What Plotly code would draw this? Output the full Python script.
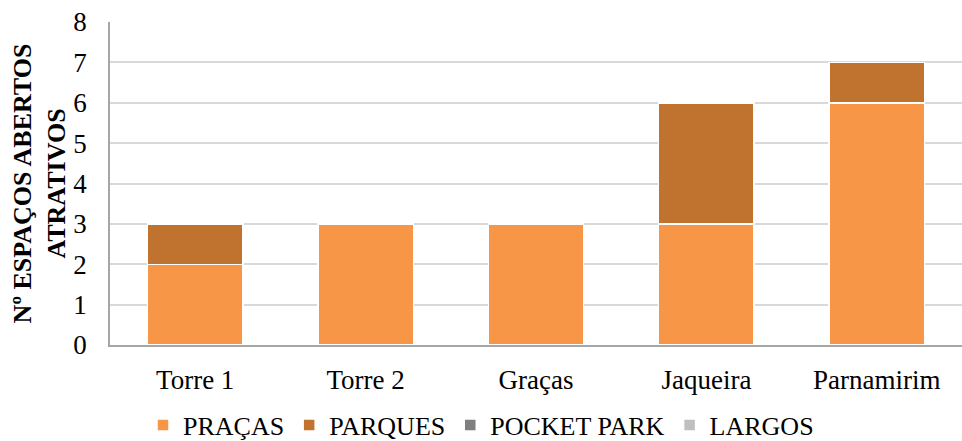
import plotly.graph_objects as go

categories = ["Torre 1", "Torre 2", "Graças", "Jaqueira", "Parnamirim"]
pracas = [2, 3, 3, 3, 6]
parques = [1, 0, 0, 3, 1]
pocket_park = [0, 0, 0, 0, 0]
largos = [0, 0, 0, 0, 0]
y_ticks = [0, 1, 2, 3, 4, 5, 6, 7, 8]

series = [
    ("PRAÇAS", pracas, "#F79646"),
    ("PARQUES", parques, "#C0732F"),
    ("POCKET PARK", pocket_park, "#7F7F7F"),
    ("LARGOS", largos, "#BFBFBF"),
]

fig = go.Figure()
for name, vals, col in series:
    fig.add_trace(go.Bar(
        x=categories, y=vals, name=name,
        marker=dict(color=col, line=dict(color="white", width=1.5)),
    ))

font = "Liberation Serif"
fig.update_layout(
    barmode="stack",
    bargap=0.44,
    width=962, height=441,
    margin=dict(l=110, r=0, t=22, b=96, autoexpand=False),
    paper_bgcolor="white", plot_bgcolor="white",
    font=dict(family=font, size=27, color="black"),
    showlegend=True,
    legend=dict(orientation="h", xref="container", x=0.5, xanchor="center",
                y=-0.248, yanchor="middle",
                font=dict(family=font, size=26), traceorder="normal",
                itemwidth=30, tracegroupgap=0),
    yaxis=dict(
        range=[0, 8], tickvals=y_ticks, showgrid=True, gridcolor="#D9D9D9", gridwidth=1.5,
        showline=True, linecolor="#A6A6A6", linewidth=1.5, zeroline=False,
        ticks="", ticklabelstandoff=16, automargin=False,
        tickfont=dict(family=font, size=27),
        title=dict(text="<b>Nº ESPAÇOS ABERTOS<br>ATRATIVOS</b>",
                   font=dict(family=font, size=26), standoff=0),
    ),
    xaxis=dict(showline=True, linecolor="#A6A6A6", linewidth=1.5, ticks="",
               automargin=False, ticklabelstandoff=10,
               tickfont=dict(family=font, size=27)),
)

fig.write_html("out.html")
